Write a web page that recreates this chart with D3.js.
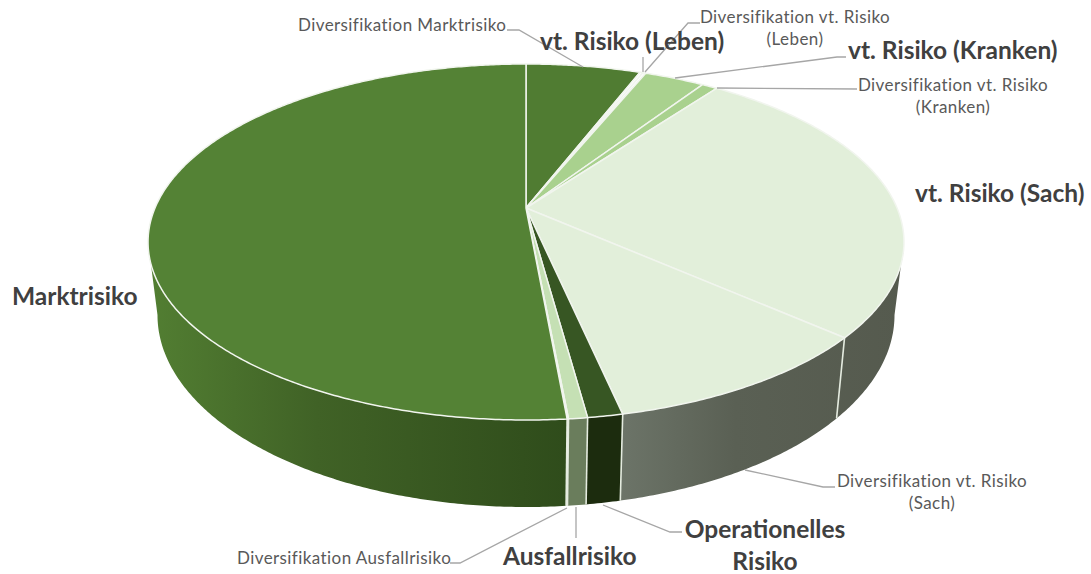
<!DOCTYPE html>
<html>
<head>
<meta charset="utf-8">
<script src="https://cdn.jsdelivr.net/npm/d3@7"></script>
<style>
  html, body { margin: 0; padding: 0; background: #fff; }
  text { font-family: Lato, "Open Sans", sans-serif; }
</style>
</head>
<body>
<div id="root"></div>
<script>
// slices, clockwise from 12 o'clock, share in percent
const categories = [
  'Diversifikation Marktrisiko', 'vt. Risiko (Leben)', 'Diversifikation vt. Risiko (Leben)',
  'vt. Risiko (Kranken)', 'Diversifikation vt. Risiko (Kranken)', 'vt. Risiko (Sach)',
  'Diversifikation vt. Risiko (Sach)', 'Operationelles Risiko', 'Ausfallrisiko',
  'Diversifikation Ausfallrisiko', 'Marktrisiko'
];
const shares = [5.9, 0.15, 0.15, 3.1, 0.8, 26.4, 10.1, 1.25, 0.67, 0.05, 51.43];

const topColors = ['#507c32', '#ffffff', '#ffffff', '#a9d18e', '#a9d18e', '#e2efda',
  '#e2efda', '#375623', '#c5e0b4', '#ffffff', '#548235'];
const wallColors = ['#3e5f27', '#7a7a7a', '#7a7a7a', '#7f9a6c', '#7f9a6c', 'url(#wallSach)',
  'url(#wallSach)', '#1c2c0e', '#6a7d5c', '#ffffff', 'url(#wallMarkt)'];

// labels: lines of text, anchor, x, baseline of first line, line step, big or small
const labelLayout = [
  { lines: ['Diversifikation Marktrisiko'], anchor: 'start', x: 298, y: 31, step: 0, big: false },
  { lines: ['vt. Risiko (Leben)'], anchor: 'start', x: 540, y: 50, step: 0, big: true },
  { lines: ['Diversifikation vt. Risiko', '(Leben)'], anchor: 'middle', x: 795, y: 23, step: 22, big: false },
  { lines: ['vt. Risiko (Kranken)'], anchor: 'start', x: 848, y: 59, step: 0, big: true },
  { lines: ['Diversifikation vt. Risiko', '(Kranken)'], anchor: 'middle', x: 953, y: 91, step: 22, big: false },
  { lines: ['vt. Risiko (Sach)'], anchor: 'start', x: 915, y: 202, step: 0, big: true },
  { lines: ['Marktrisiko'], anchor: 'start', x: 12, y: 305, step: 0, big: true },
  { lines: ['Diversifikation vt. Risiko', '(Sach)'], anchor: 'middle', x: 932, y: 487, step: 22, big: false },
  { lines: ['Operationelles', 'Risiko'], anchor: 'middle', x: 765, y: 538, step: 32, big: true },
  { lines: ['Ausfallrisiko'], anchor: 'start', x: 503, y: 565, step: 0, big: true },
  { lines: ['Diversifikation Ausfallrisiko'], anchor: 'start', x: 237, y: 564, step: 0, big: false }
];

const leaders = [
  [[507, 30], [519, 30], [583, 67]],
  [[643, 72], [643, 57]],
  [[645, 72], [688, 23], [700, 23]],
  [[675, 78], [837, 57], [846, 57]],
  [[717, 88], [857, 89]],
  [[745, 470], [823, 487], [835, 487]],
  [[603, 505], [670, 532], [682, 532]],
  [[576, 507], [576, 538]],
  [[567, 508], [460, 563], [450, 563]]
];

// perspective of the tilted disc
const cx = 526, apexY = 208;
const a = 371, b = 171.5, k = 0.191;
const wallH = 70.4, bottomScale = 0.975;

const projTop = t => {
  const u = Math.sin(t), v = -Math.cos(t), w = 1 - k * v;
  return [cx + a * u / w, apexY + b * v / w];
};
const projBottom = t => {
  const p = projTop(t), w = 1 + k * Math.cos(t);
  return [cx + (p[0] - cx) * bottomScale, p[1] + wallH / w];
};

const rad = d => d * Math.PI / 180;
const arcPts = (fn, t0, t1) => {
  const n = Math.max(2, Math.ceil((t1 - t0) / rad(0.5)));
  return d3.range(n + 1).map(i => fn(t0 + (t1 - t0) * i / n));
};

const svg = d3.select('#root').append('svg')
  .attr('width', 1091)
  .attr('height', 574)
  .style('display', 'block');

const defs = svg.append('defs');
const addGrad = (id, x1, x2, stops) => {
  const g = defs.append('linearGradient').attr('id', id)
    .attr('gradientUnits', 'userSpaceOnUse')
    .attr('x1', x1).attr('x2', x2).attr('y1', 0).attr('y2', 0);
  stops.forEach(s => g.append('stop').attr('offset', s[0]).attr('stop-color', s[1]));
};
addGrad('wallMarkt', 150, 568, [[0, '#527e32'], [0.4, '#406226'], [1, '#2f4c1b']]);
addGrad('wallSach', 622, 905, [[0, '#6c7468'], [0.4, '#5a6054'], [1, '#555a4e']]);

const line = d3.line();
const arcs = d3.pie().sort(null).value(d => d).startAngle(0).endAngle(2 * Math.PI)(shares);

// side wall, only the part facing the viewer, ends are the tangents of the disc
const wallFrom = rad(101), wallTo = rad(259);
svg.append('g').selectAll('path')
  .data(arcs.filter(d => d.endAngle > wallFrom && d.startAngle < wallTo))
  .join('path')
  .attr('d', d => {
    const t0 = Math.max(d.startAngle, wallFrom), t1 = Math.min(d.endAngle, wallTo);
    return line(arcPts(projTop, t0, t1).concat(arcPts(projBottom, t0, t1).reverse())) + 'Z';
  })
  .attr('fill', d => wallColors[d.index]);

// separators on the wall
svg.append('g').selectAll('line')
  .data(arcs.filter(d => d.startAngle > rad(95) && d.startAngle < rad(265)))
  .join('line')
  .attr('x1', d => projTop(d.startAngle)[0])
  .attr('y1', d => projTop(d.startAngle)[1])
  .attr('x2', d => projBottom(d.startAngle)[0])
  .attr('y2', d => projBottom(d.startAngle)[1])
  .attr('stroke', '#e4ebdf')
  .attr('stroke-width', 1.6);

// top face
svg.append('g').selectAll('path')
  .data(arcs)
  .join('path')
  .attr('d', d => line([[cx, apexY]].concat(arcPts(projTop, d.startAngle, d.endAngle))) + 'Z')
  .attr('fill', d => topColors[d.index])
  .attr('stroke', '#f1f5ee')
  .attr('stroke-width', 1.5)
  .attr('stroke-linejoin', 'round');

svg.append('g').selectAll('path')
  .data(leaders)
  .join('path')
  .attr('d', line)
  .attr('fill', 'none')
  .attr('stroke', '#a6a6a6')
  .attr('stroke-width', 1.3);

const labels = svg.append('g').selectAll('text')
  .data(labelLayout)
  .join('text')
  .attr('text-anchor', d => d.anchor)
  .attr('font-size', d => d.big ? 24.5 : 17)
  .attr('font-weight', d => d.big ? 700 : 400)
  .attr('letter-spacing', d => d.big ? 0 : 0.42)
  .attr('fill', d => d.big ? '#404040' : '#595959');

labels.selectAll('tspan')
  .data(d => d.lines.map((s, i) => ({ s, x: d.x, y: d.y + i * d.step })))
  .join('tspan')
  .attr('x', d => d.x)
  .attr('y', d => d.y)
  .text(d => d.s);
</script>
</body>
</html>
